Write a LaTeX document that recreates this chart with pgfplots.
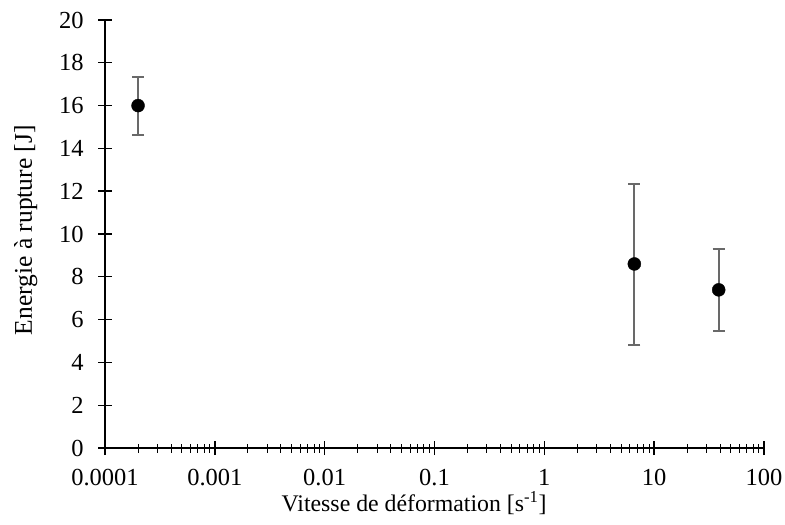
\documentclass[border=0pt]{standalone}
\usepackage{fontspec}
\setmainfont{Liberation Serif}
\usepackage{pgfplots}
\pgfplotsset{compat=1.18}
\definecolor{errgray}{RGB}{105,105,105}
\begin{document}
\begin{tikzpicture}
\begin{axis}[
  at={(0,0)}, anchor=south west,
  scale only axis, width=659bp, height=428bp,
  xmode=log, xmin=1e-4, xmax=100,
  ymin=0, ymax=20,
  axis x line*=bottom, axis y line*=left,
  axis line style={line width=1.4bp, black},
  major tick style={black, line width=1.4bp},
  minor tick style={black, line width=1bp},
  tick align=center,
  major tick length=14bp, minor tick length=9bp,
  xtick={1e-4,1e-3,1e-2,1e-1,1,10,100},
  xticklabels={0.0001,0.001,0.01,0.1,1,10,100},
  ytick={0,2,...,20},
  /pgf/number format/assume math mode=true,
  tick label style={font=\fontsize{24.5bp}{28bp}\selectfont},
  xlabel={Vitesse de déformation [s\textsuperscript{-1}]},
  ylabel={Energie à rupture [J]},
  xticklabel style={yshift=-11bp},
  yticklabel style={xshift=-11bp},
  xlabel style={font=\fontsize{23.8bp}{27bp}\selectfont,
    at={([yshift=-63bp]rel axis cs:0.469,0)}, anchor=base},
  ylabel style={font=\fontsize{25.5bp}{29bp}\selectfont,
    at={([xshift=-73bp]rel axis cs:0,0.509)}, anchor=base},
  clip=false,
]
\addplot[only marks, mark=*, mark size=6.5bp, mark options={black, fill=black},
  error bars/.cd, y dir=both, y explicit,
  error bar style={errgray, line width=1.9bp},
  error mark options={errgray, line width=1.9bp, mark size=6bp, rotate=90}]
  table[x=x, y=y, y error plus=ep, y error minus=em] {
  x y ep em
  0.0002 16.0 1.33 1.37
  6.6 8.6 3.74 3.77
  38.7 7.39 1.92 1.93
};
\end{axis}
\pgfresetboundingbox
\path (-105bp,-77bp) rectangle (680bp,448bp);
\end{tikzpicture}
\end{document}
